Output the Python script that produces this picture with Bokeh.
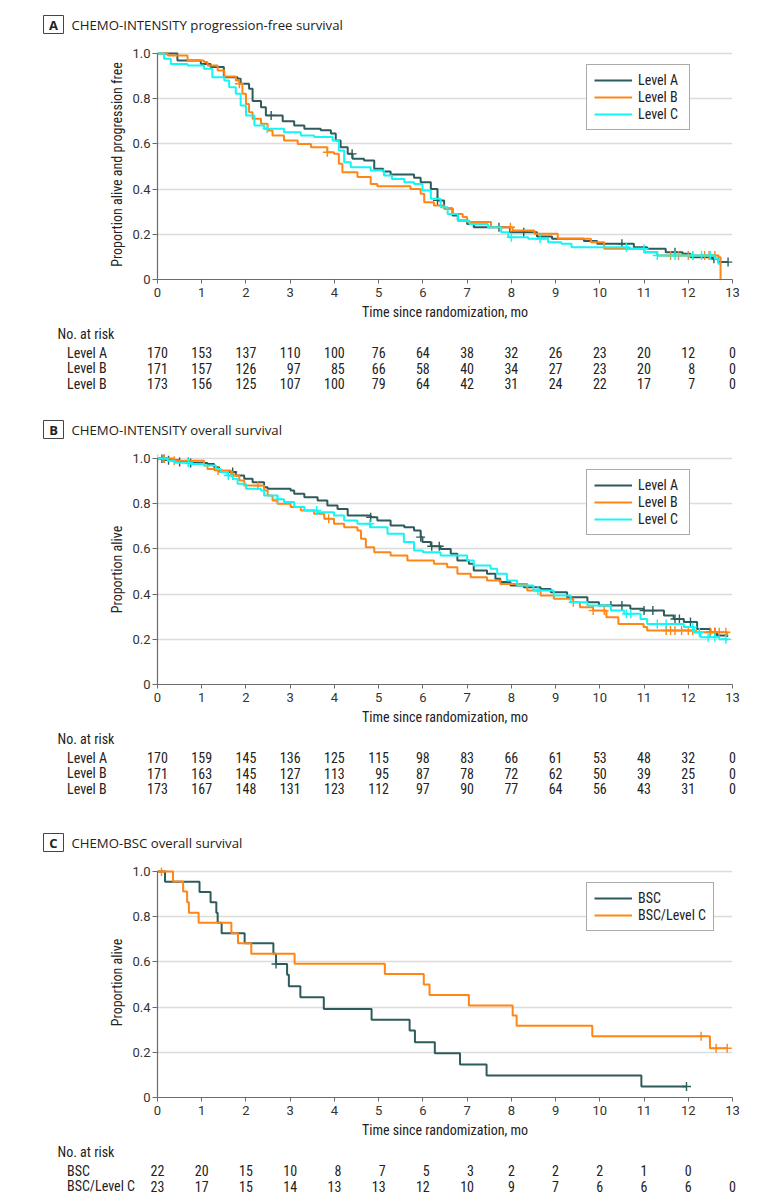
import numpy as np
from bokeh.plotting import figure
from bokeh.layouts import column
from bokeh.models import Range1d, FixedTicker, Legend, LegendItem
from bokeh.core.properties import value
from bokeh.embed import file_html
from bokeh.resources import INLINE

# ---------------- data ----------------
months = list(range(14))

pfs_a_t = [0, 0.45, 0.98, 1.2, 1.5, 1.81, 1.88, 2.07, 2.15, 2.34, 2.45, 2.83, 3.09, 3.32, 3.69, 3.92, 4.03, 4.14, 4.3, 4.41,
           4.67, 4.9, 5.1, 5.27, 5.8, 5.95, 6.18, 6.33, 6.48, 6.67, 6.79, 7.0, 7.15, 7.97, 8.58, 8.92, 9.64, 9.94, 10.77, 11.07,
           11.49, 11.87, 12.05, 12.55, 12.68, 12.9]
pfs_a_s = [1.0, 0.969, 0.954, 0.94, 0.895, 0.888, 0.866, 0.844, 0.79, 0.762, 0.726, 0.70, 0.681, 0.667, 0.66, 0.646, 0.615, 0.585, 0.556, 0.534,
           0.527, 0.49, 0.478, 0.465, 0.45, 0.43, 0.40, 0.35, 0.314, 0.283, 0.261, 0.246, 0.231, 0.209, 0.19, 0.18, 0.17, 0.158, 0.143, 0.136,
           0.121, 0.114, 0.099, 0.092, 0.077, 0.077]
pfs_a_cens = [2.57, 4.4, 6.33, 7.72, 8.28, 10.5, 11.7, 12.58, 12.9]

pfs_b_t = [0, 0.23, 0.68, 1.05, 1.13, 1.36, 1.51, 1.77, 1.85, 1.92, 2.0, 2.07, 2.15, 2.34, 2.49, 2.6, 2.86, 3.17, 3.47, 3.84,
           3.99, 4.1, 4.18, 4.52, 4.82, 4.97, 5.72, 5.95, 6.03, 6.25, 6.48, 6.67, 6.9, 7.0, 7.54, 8.03, 8.52, 9.05, 9.8, 10.1,
           11.01, 11.3, 12.68, 12.73]
pfs_b_s = [1.0, 0.991, 0.969, 0.962, 0.947, 0.925, 0.898, 0.88, 0.866, 0.822, 0.777, 0.74, 0.711, 0.689, 0.659, 0.637, 0.615, 0.60, 0.585, 0.563,
           0.556, 0.512, 0.475, 0.453, 0.423, 0.413, 0.40, 0.379, 0.342, 0.327, 0.313, 0.29, 0.276, 0.254, 0.231, 0.217, 0.202, 0.18, 0.165, 0.136,
           0.121, 0.106, 0.099, 0.0]
pfs_b_cens = [1.85, 3.84, 7.98, 11.6, 11.78, 12.0, 12.1, 12.37, 12.47, 12.6]

pfs_c_t = [0, 0.15, 0.3, 0.68, 1.05, 1.24, 1.51, 1.62, 1.77, 1.88, 2.0, 2.19, 2.41, 2.86, 3.24, 3.54, 3.96, 4.1, 4.22, 4.37,
           4.82, 5.12, 5.3, 5.58, 5.8, 5.99, 6.18, 6.4, 6.56, 6.79, 7.05, 7.47, 7.77, 7.93, 8.38, 8.83, 9.13, 9.36, 10.65, 11.01,
           11.3, 12.6, 12.68, 12.72]
pfs_c_s = [1.0, 0.977, 0.954, 0.947, 0.932, 0.895, 0.88, 0.851, 0.822, 0.77, 0.726, 0.681, 0.667, 0.652, 0.637, 0.63, 0.615, 0.571, 0.519, 0.497,
           0.482, 0.46, 0.445, 0.43, 0.423, 0.394, 0.357, 0.32, 0.29, 0.261, 0.246, 0.231, 0.209, 0.187, 0.18, 0.165, 0.158, 0.143, 0.136, 0.121,
           0.106, 0.092, 0.07, 0.07]
pfs_c_cens = [2.48, 8.0, 8.65, 10.6, 11.0, 11.3, 11.7, 12.1, 12.3, 12.5]

os_a_t = [0, 0.23, 0.49, 0.75, 1.13, 1.28, 1.39, 1.58, 1.77, 1.96, 2.15, 2.41, 2.49, 3.01, 3.09, 3.32, 3.62, 3.84, 4.07, 4.3,
          4.82, 4.97, 5.27, 5.58, 5.8, 5.95, 5.99, 6.18, 6.4, 6.63, 6.78, 7.04, 7.15, 7.45, 7.64, 7.75, 7.98, 8.28, 8.66, 8.89,
          9.26, 9.72, 9.98, 10.69, 10.99, 11.45, 11.67, 11.9, 12.2, 12.5, 12.65, 12.88]
os_a_s = [1.0, 0.992, 0.984, 0.98, 0.976, 0.962, 0.942, 0.94, 0.925, 0.91, 0.895, 0.873, 0.866, 0.858, 0.844, 0.829, 0.814, 0.792, 0.777, 0.748,
          0.74, 0.726, 0.704, 0.696, 0.681, 0.652, 0.63, 0.612, 0.60, 0.578, 0.549, 0.534, 0.504, 0.49, 0.468, 0.453, 0.438, 0.43, 0.423, 0.408,
          0.386, 0.364, 0.35, 0.335, 0.327, 0.305, 0.29, 0.276, 0.246, 0.231, 0.217, 0.21]
os_a_cens = [0.1, 0.15, 0.25, 0.5, 0.7, 0.75, 1.7, 4.82, 5.95, 6.2, 6.37, 10.25, 10.5, 11.0, 11.2, 11.7, 11.8, 12.05, 12.5, 12.6]

os_b_t = [0, 0.38, 1.05, 1.13, 1.36, 1.66, 1.85, 1.96, 2.41, 2.49, 2.6, 2.71, 3.01, 3.24, 3.54, 3.77, 3.99, 4.22, 4.52, 4.6,
          4.71, 4.9, 5.27, 5.65, 6.25, 6.55, 6.78, 7.08, 7.45, 7.75, 8.36, 8.66, 8.96, 9.4, 9.55, 9.85, 10.15, 10.42, 10.99, 11.07,
          12.13, 12.88]
os_b_s = [1.0, 0.99, 0.969, 0.954, 0.947, 0.925, 0.903, 0.88, 0.858, 0.836, 0.814, 0.80, 0.785, 0.77, 0.755, 0.733, 0.711, 0.696, 0.681, 0.645,
          0.607, 0.585, 0.571, 0.549, 0.534, 0.519, 0.49, 0.475, 0.46, 0.445, 0.416, 0.394, 0.379, 0.364, 0.342, 0.327, 0.298, 0.268, 0.254, 0.239,
          0.231, 0.217]
os_b_cens = [0.0, 0.15, 0.38, 1.37, 1.7, 2.27, 3.87, 9.4, 9.85, 10.1, 11.5, 11.6, 11.7, 11.85, 12.0, 12.1, 12.5, 12.6, 12.7, 12.85]

os_c_t = [0, 0.23, 0.38, 0.75, 1.05, 1.32, 1.43, 1.58, 1.7, 1.81, 2.0, 2.34, 2.41, 2.71, 2.86, 3.09, 3.32, 3.62, 3.99, 4.22,
          4.52, 4.82, 5.2, 5.57, 5.8, 6.0, 6.4, 7.0, 7.15, 7.53, 7.68, 7.9, 8.13, 8.5, 8.96, 9.34, 9.72, 10.25, 10.55, 10.92,
          11.07, 11.9, 12.13, 12.28, 12.7, 12.88]
os_c_s = [1.0, 0.99, 0.981, 0.976, 0.969, 0.954, 0.94, 0.925, 0.91, 0.888, 0.866, 0.858, 0.836, 0.82, 0.807, 0.785, 0.77, 0.762, 0.748, 0.726,
          0.711, 0.696, 0.667, 0.63, 0.593, 0.585, 0.571, 0.549, 0.527, 0.512, 0.49, 0.46, 0.438, 0.416, 0.394, 0.364, 0.35, 0.327, 0.313, 0.29,
          0.268, 0.254, 0.231, 0.209, 0.20, 0.195]
os_c_cens = [0.7, 1.6, 2.72, 3.6, 4.8, 8.6, 10.6, 10.7, 11.3, 11.5, 12.1, 12.25, 12.45, 12.6, 12.85]

bsc_t = [0, 0.17, 0.95, 1.2, 1.33, 1.36, 1.45, 1.97, 2.62, 2.68, 2.93, 2.97, 3.23, 3.76, 4.84, 5.7, 5.82, 6.27, 6.84, 7.44, 10.94, 11.96]
bsc_s = [1.0, 0.955, 0.909, 0.864, 0.818, 0.773, 0.727, 0.682, 0.636, 0.591, 0.543, 0.492, 0.444, 0.392, 0.344, 0.296, 0.245, 0.196, 0.146, 0.097, 0.049, 0.049]
bsc_cens = [2.68, 11.96]

bscc_t = [0, 0.35, 0.58, 0.67, 0.71, 0.93, 1.67, 1.82, 2.12, 3.1, 5.14, 6.02, 6.15, 7.04, 8.03, 8.12, 9.83, 12.49, 12.88]
bscc_s = [1.0, 0.956, 0.912, 0.864, 0.817, 0.773, 0.727, 0.683, 0.636, 0.592, 0.547, 0.50, 0.454, 0.407, 0.363, 0.317, 0.271, 0.218, 0.218]
bscc_cens = [0.09, 12.29, 12.63, 12.88]

risk_a_labels = ["Level A", "Level B", "Level B"]
risk_a = [[170, 153, 137, 110, 100, 76, 64, 38, 32, 26, 23, 20, 12, 0],
          [171, 157, 126, 97, 85, 66, 58, 40, 34, 27, 23, 20, 8, 0],
          [173, 156, 125, 107, 100, 79, 64, 42, 31, 24, 22, 17, 7, 0]]
risk_b_labels = ["Level A", "Level B", "Level B"]
risk_b = [[170, 159, 145, 136, 125, 115, 98, 83, 66, 61, 53, 48, 32, 0],
          [171, 163, 145, 127, 113, 95, 87, 78, 72, 62, 50, 39, 25, 0],
          [173, 167, 148, 131, 123, 112, 97, 90, 77, 64, 56, 43, 31, 0]]
risk_c_labels = ["BSC", "BSC/Level C"]
risk_c = [[22, 20, 15, 10, 8, 7, 5, 3, 2, 2, 2, 1, 0],
          [23, 17, 15, 14, 13, 13, 12, 10, 9, 7, 6, 6, 6, 0]]

y_ticks = [0, 0.2, 0.4, 0.6, 0.8, 1.0]
y_tick_text = {0: "0", 0.2: "0.2", 0.4: "0.4", 0.6: "0.6", 0.8: "0.8", 1: "1.0"}

# ---------------- style ----------------
W = 783
LEFT = 157
RIGHT = 51
FRAME_W = W - LEFT - RIGHT
PPU = FRAME_W / 13.0
TOPB = 9
FRAME_H = 230
BOTB = 45
YMAX = FRAME_H / 226.0

C_A = "#2e5b5b"
C_B = "#ff8515"
C_C = "#14f5f5"
AXC = "#6b6b6b"
TXT = "#222222"
NARROW = "Roboto Condensed"
REG = "Roboto"
TITLEF = "Open Sans"
NSIZE = "14px"


def base_fig(h, xr, yr, **kw):
    return figure(width=W, height=h, x_range=xr, y_range=yr, toolbar_location=None,
                  output_backend="svg", outline_line_color=None, frame_align=False, **kw)


def header(letter, title, h, cy):
    p = base_fig(h, Range1d(0, W), Range1d(h, 0), min_border=0,
                 x_axis_location=None, y_axis_location=None)
    p.grid.visible = False
    p.quad(left=[43], right=[63], top=[cy - 9], bottom=[cy + 9], fill_color=None,
           line_color="#444444", line_width=1)
    p.text(x=[53], y=[cy + 0.5], text=[letter], text_align="center", text_baseline="middle",
           text_font=value(TITLEF), text_font_style="bold", text_font_size="13px", text_color=TXT)
    p.text(x=[71], y=[cy + 0.5], text=[title], text_align="left", text_baseline="middle",
           text_font=value(TITLEF), text_font_size="13.2px", text_color=TXT)
    return p


def step_at(t, s, ct):
    t = np.asarray(t)
    s = np.asarray(s)
    idx = np.searchsorted(t, np.asarray(ct), side="right") - 1
    return s[np.clip(idx, 0, len(s) - 1)]


def km_plot(ylabel, curves, legend_y):
    p = base_fig(TOPB + FRAME_H + BOTB, Range1d(0, 13), Range1d(0, YMAX),
                 min_border_left=LEFT, min_border_right=RIGHT, min_border_top=TOPB, min_border_bottom=BOTB)
    p.xaxis.ticker = FixedTicker(ticks=months)
    p.yaxis.ticker = FixedTicker(ticks=y_ticks)
    p.yaxis.major_label_overrides = y_tick_text
    p.yaxis.bounds = (0, 1)
    p.xgrid.visible = False
    p.ygrid.ticker = FixedTicker(ticks=y_ticks[1:])
    p.ygrid.grid_line_color = "#dcdcdc"
    p.ygrid.grid_line_width = 1.6
    for ax in (p.xaxis[0], p.yaxis[0]):
        ax.axis_line_color = AXC
        ax.axis_line_width = 1.2
        ax.major_tick_line_color = AXC
        ax.major_tick_in = 0
        ax.minor_tick_line_color = None
        ax.major_label_text_font = REG
        ax.major_label_text_font_size = "13px"
        ax.major_label_text_color = "#333333"
        ax.axis_label_text_font = NARROW
        ax.axis_label_text_font_size = NSIZE
        ax.axis_label_text_font_style = "normal"
        ax.axis_label_text_color = TXT
    p.xaxis.major_tick_out = 4
    p.yaxis.major_tick_out = 5
    p.xaxis.major_label_standoff = 4
    p.yaxis.major_label_standoff = 2
    p.xaxis.axis_label = "Time since randomization, mo"
    p.xaxis.axis_label_standoff = 4
    p.yaxis.axis_label = ylabel
    p.yaxis.axis_label_standoff = 4

    items = []
    for label, t, s, cens, color in curves:
        r = p.step(x=t, y=s, mode="after", line_color=color, line_width=2)
        p.scatter(x=cens, y=step_at(t, s, cens), marker="cross", size=9,
                  line_color=color, line_width=1.4)
        items.append(LegendItem(label=label, renderers=[r]))
    leg = Legend(items=items, location=(429, legend_y))
    leg.border_line_color = "#555555"
    leg.border_line_width = 1
    leg.background_fill_color = "white"
    leg.background_fill_alpha = 1.0
    leg.label_text_font = NARROW
    leg.label_text_font_size = NSIZE
    leg.label_text_color = TXT
    leg.glyph_width = 38
    leg.glyph_height = 16
    leg.label_height = 16
    leg.label_width = 44
    leg.label_standoff = 6
    leg.spacing = 1
    leg.padding = 7
    leg.margin = 0
    p.add_layout(leg)
    return p


def risk_table(labels, rows, h):
    x0 = -LEFT / PPU
    x1 = (W - LEFT) / PPU
    p = base_fig(h, Range1d(x0, x1), Range1d(h, 0), min_border=0,
                 x_axis_location=None, y_axis_location=None)
    p.grid.visible = False
    f = value(NARROW)
    p.text(x=[(57 - LEFT) / PPU], y=[9], text=["No. at risk"], text_align="left", text_baseline="middle",
           text_font=f, text_font_size=NSIZE, text_color=TXT)
    row_y = [28, 43.5, 59]
    digit = 6.9
    for i, lab in enumerate(labels):
        p.text(x=[(66.5 - LEFT) / PPU], y=[row_y[i]], text=[lab], text_align="left", text_baseline="middle",
               text_font=f, text_font_size=NSIZE, text_color=TXT)
    xs, ys, tt = [], [], []
    ncol = max(len(r) for r in rows)
    for j in range(ncol):
        maxlen = max(len(str(r[j])) for r in rows if j < len(r))
        for i, r in enumerate(rows):
            if j < len(r):
                xs.append(months[j] + maxlen * digit / 2 / PPU)
                ys.append(row_y[i])
                tt.append(str(r[j]))
    p.text(x=xs, y=ys, text=tt, text_align="right", text_baseline="middle",
           text_font=f, text_font_size=NSIZE, text_color=TXT)
    return p


hA = header("A", "CHEMO-INTENSITY progression-free survival", 40, 24)
pA = km_plot("Proportion alive and progression free",
             [("Level A", pfs_a_t, pfs_a_s, pfs_a_cens, C_A),
              ("Level B", pfs_b_t, pfs_b_s, pfs_b_cens, C_B),
              ("Level C", pfs_c_t, pfs_c_s, pfs_c_cens, C_C)], 149)
tA = risk_table(risk_a_labels, risk_a, 76)

hB = header("B", "CHEMO-INTENSITY overall survival", 45, 29)
pB = km_plot("Proportion alive",
             [("Level A", os_a_t, os_a_s, os_a_cens, C_A),
              ("Level B", os_b_t, os_b_s, os_b_cens, C_B),
              ("Level C", os_c_t, os_c_s, os_c_cens, C_C)], 149)
tB = risk_table(risk_b_labels, risk_b, 76)

hC = header("C", "CHEMO-BSC overall survival", 53, 37)
pC = km_plot("Proportion alive",
             [("BSC", bsc_t, bsc_s, bsc_cens, C_A),
              ("BSC/Level C", bscc_t, bscc_s, bscc_cens, C_B)], 166)
tC = risk_table(risk_c_labels, risk_c, 61)

page = column(hA, pA, tA, hB, pB, tB, hC, pC, tC, spacing=0)
open("out.html", "w").write(file_html(page, INLINE))
